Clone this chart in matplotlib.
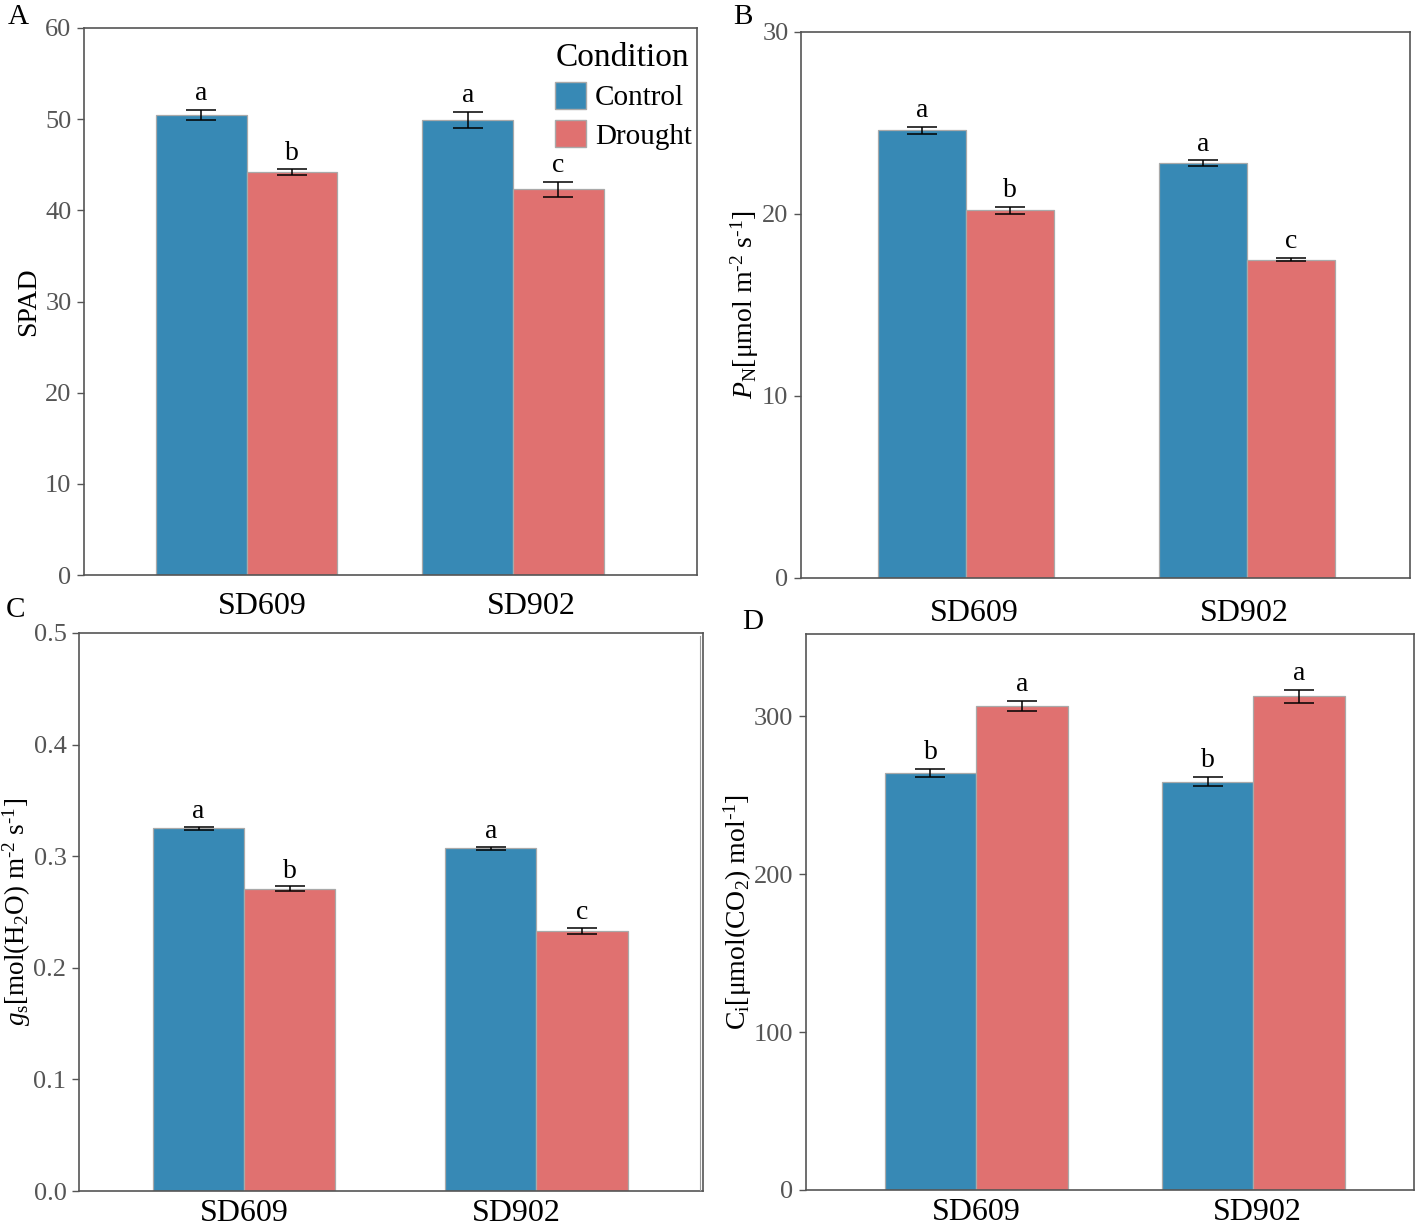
import numpy as np
import matplotlib
matplotlib.use('Agg')
import matplotlib.pyplot as plt
from matplotlib.patches import Patch

plt.rcParams['font.family'] = ['Liberation Serif', 'DejaVu Serif']
plt.rcParams['mathtext.fontset'] = 'custom'
plt.rcParams['mathtext.rm'] = 'Liberation Serif'
plt.rcParams['mathtext.it'] = 'Liberation Serif:italic'

# data
cultivars = ['SD609', 'SD902']
conditions = ['Control', 'Drought']

spad_ctrl = [50.45, 49.9]
spad_ctrl_err = [0.55, 0.9]
spad_dro = [44.2, 42.3]
spad_dro_err = [0.3, 0.85]
spad_letters = [['a', 'a'], ['b', 'c']]

pn_ctrl = [24.6, 22.8]
pn_ctrl_err = [0.18, 0.15]
pn_dro = [20.2, 17.5]
pn_dro_err = [0.2, 0.1]
pn_letters = [['a', 'a'], ['b', 'c']]

gs_ctrl = [0.325, 0.307]
gs_ctrl_err = [0.0015, 0.0015]
gs_dro = [0.271, 0.233]
gs_dro_err = [0.002, 0.003]
gs_letters = [['a', 'a'], ['b', 'c']]

ci_ctrl = [264.0, 258.5]
ci_ctrl_err = [2.5, 3.0]
ci_dro = [306.5, 312.5]
ci_dro_err = [3.0, 4.0]
ci_letters = [['b', 'b'], ['a', 'a']]

blue = '#3789B5'
red = '#E07170'
W, H = 1416, 1226

fig = plt.figure(figsize=(W / 100, H / 100), dpi=100)


def px_axes(l, t, r, b):
    return fig.add_axes([l / W, 1 - b / H, (r - l) / W, (b - t) / H])


def panel(ax, ctrl, ctrl_err, dro, dro_err, letters, width, ylim, yticks,
          ylabel, xlim, fmt, lab_off, letter_pad, xpad, lab_size=20):
    x = np.arange(len(cultivars))
    for vals, errs, off, col, labs in [(ctrl, ctrl_err, -width / 2, blue, letters[0]),
                                       (dro, dro_err, width / 2, red, letters[1])]:
        ax.bar(x + off, vals, width, color=col, edgecolor='#A9A9A9', linewidth=0.9, zorder=2)
        ax.errorbar(x + off, vals, yerr=errs, fmt='none', ecolor='black',
                    elinewidth=1.1, capsize=11, capthick=1.1, zorder=3)
        for xi, v, e, l in zip(x + off, vals, errs, labs):
            ax.text(xi, v + e + letter_pad, l, ha='center', va='bottom', fontsize=20)
    ax.set_xlim(*xlim)
    ax.set_ylim(*ylim)
    ax.set_yticks(yticks)
    ax.set_yticklabels([fmt.format(t) for t in yticks])
    ax.set_xticks(x + np.array(lab_off))
    ax.set_xticklabels(cultivars, fontsize=23)
    ax.tick_params(axis='x', length=0, pad=xpad)
    ax.tick_params(axis='y', length=5, width=1, color='#555555', labelcolor='#555555',
                   labelsize=19, pad=4)
    for s in ax.spines.values():
        s.set_color('#555555')
        s.set_linewidth(1.2)
    ax.set_ylabel(ylabel, fontsize=lab_size)


sup_m2 = r'$^{\text{-}2}$'
sup_m1 = r'$^{\text{-}1}$'

# A
axA = px_axes(84, 28, 697, 575)
panel(axA, spad_ctrl, spad_ctrl_err, spad_dro, spad_dro_err, spad_letters, 0.34,
      (0, 60), [0, 10, 20, 30, 40, 50, 60], 'SPAD', (-0.61, 1.69), '{:d}',
      [0.06, 0.07], 0.4, 12)
axA.yaxis.set_label_coords(-0.07, 0.5)
handles = [Patch(facecolor=blue, edgecolor='#A9A9A9'), Patch(facecolor=red, edgecolor='#A9A9A9')]
leg = axA.legend(handles, conditions, title='Condition', loc='upper right',
                 bbox_to_anchor=(1.015, 1.0), frameon=False, fontsize=21, title_fontsize=24,
                 handlelength=1.05, handleheight=1.05, handletextpad=0.3, labelspacing=0.3,
                 borderaxespad=0.1)
leg._legend_box.align = 'left'

# B
axB = px_axes(801, 32, 1410, 578)
panel(axB, pn_ctrl, pn_ctrl_err, pn_dro, pn_dro_err, pn_letters, 0.313,
      (0, 30), [0, 10, 20, 30],
      r'$\it{P}_{\rm N}$[μmol m' + sup_m2 + ' s' + sup_m1 + ']',
      (-0.587, 1.58), '{:d}', [0.03, -0.01], 0.2, 15)
axB.yaxis.set_label_coords(-0.065, 0.5)

# C
axC = px_axes(79, 633, 703, 1191)
panel(axC, gs_ctrl, gs_ctrl_err, gs_dro, gs_dro_err, gs_letters, 0.312,
      (0, 0.5), [0.0, 0.1, 0.2, 0.3, 0.4, 0.5],
      r'$\it{g}_{\rm s}$[mol(H$_{\rm 2}$O) m' + sup_m2 + ' s' + sup_m1 + ']',
      (-0.565, 1.57), '{:.1f}', [0.0, -0.07], 0.002, 6, lab_size=19.5)
axC.yaxis.set_label_coords(-0.074, 0.5)

# D
axD = px_axes(806, 634, 1414, 1190)
panel(axD, ci_ctrl, ci_ctrl_err, ci_dro, ci_dro_err, ci_letters, 0.33,
      (0, 352), [0, 100, 200, 300],
      r'C$_{\rm i}$[μmol(CO$_{\rm 2}$) mol' + sup_m1 + ']',
      (-0.614, 1.58), '{:d}', [0.0, 0.015], 2.5, 6)
axD.yaxis.set_label_coords(-0.085, 0.5)

# thin separator line left of panel D
fig.add_artist(plt.Line2D([700 / W, 700 / W], [1 - 636 / H, 1 - 1190 / H],
                          color='#9A9A9A', linewidth=0.8))

for lab, (px, py) in zip('ABCD', [(8, 17), (733, 17), (6, 610), (742, 622)]):
    fig.text(px / W, 1 - py / H, lab, fontsize=21, ha='left', va='center')

fig.savefig('out.png', dpi=100)
